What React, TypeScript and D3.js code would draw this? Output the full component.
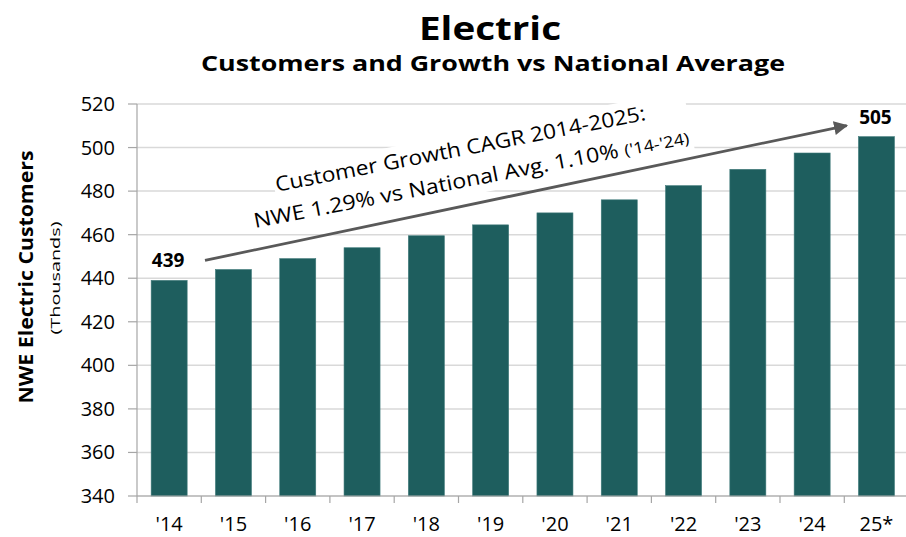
import React from "react";
import * as d3 from "d3";

const categories = ["'14", "'15", "'16", "'17", "'18", "'19", "'20", "'21", "'22", "'23", "'24", "25*"];
const customers = [439, 444, 449, 454, 459.5, 464.5, 470, 476, 482.5, 490, 497.5, 505];
const yTicks = [340, 360, 380, 400, 420, 440, 460, 480, 500, 520];
const labeledIdx = [0, 11];
const labelTexts = ["439", "505"];

const W = 906;
const H = 537;
const FONT = "'Open Sans', 'Noto Sans', sans-serif";

export default function App() {
  const x = d3
    .scaleBand<string>()
    .domain(categories)
    .range([137, 908.6])
    .paddingInner(0.44)
    .paddingOuter(0.22);
  const y = d3.scaleLinear().domain([340, 520]).range([496, 104]);

  const boundaries = categories.map((_, i) => 137 + i * x.step());

  const arrowStart = { x: 205, y: y(448.2) };
  const arrowEnd = { x: 846.7, y: y(510.1) };

  return (
    <svg
      width={W}
      height={H}
      style={{ position: "absolute", left: 0, top: 0, background: "#fff" }}
      fontFamily={FONT}
    >
      <defs>
        <marker
          id="ah"
          viewBox="0 0 10 10"
          refX="9"
          refY="5"
          markerWidth="5.2"
          markerHeight="5"
          markerUnits="strokeWidth"
          orient="auto"
        >
          <path d="M0,0 L10,5 L0,10 z" fill="#595959" />
        </marker>
      </defs>

      {/* Titles */}
      <text x={490} y={40} textAnchor="middle" fontWeight="bold" fontSize={32} textLength={142} lengthAdjust="spacingAndGlyphs" fill="#000">
        Electric
      </text>
      <text x={493} y={71} textAnchor="middle" fontWeight="bold" fontSize={22} textLength={584} lengthAdjust="spacingAndGlyphs" fill="#000">
        Customers and Growth vs National Average
      </text>

      {/* Gridlines */}
      {yTicks.map((t) => (
        <line key={"g" + t} x1={137} x2={W} y1={y(t)} y2={y(t)} stroke="#d9d9d9" strokeWidth={1.5} />
      ))}

      {/* Annotation box (white) covering gridlines */}
      <g transform={`translate(461.7,155.85) rotate(-11)`}>
        <rect x={-190} y={-22} width={420} height={62} fill="#fff" />
      </g>

      {/* Bars */}
      {categories.map((c, i) => (
        <rect
          key={c}
          x={x(c)}
          y={y(customers[i])}
          width={x.bandwidth()}
          height={y(340) - y(customers[i])}
          fill="#1e5e5e"
          stroke="#3f7a7a"
          strokeWidth={0.6}
        />
      ))}

      {/* Axes */}
      <line x1={137} x2={137} y1={104} y2={496} stroke="#a6a6a6" strokeWidth={1.2} />
      <line x1={137} x2={W} y1={496} y2={496} stroke="#a6a6a6" strokeWidth={1.2} />
      {yTicks.map((t) => (
        <line key={"yt" + t} x1={128} x2={137} y1={y(t)} y2={y(t)} stroke="#a6a6a6" strokeWidth={1.2} />
      ))}
      {boundaries.map((b, i) => (
        <line key={"xt" + i} x1={b} x2={b} y1={496} y2={503} stroke="#a6a6a6" strokeWidth={1.2} />
      ))}

      {/* Y tick labels */}
      {yTicks.map((t) => (
        <text key={"yl" + t} x={115} y={y(t) + 7} textAnchor="end" fontSize={20} fill="#000">
          {t}
        </text>
      ))}

      {/* X tick labels */}
      {categories.map((c) => (
        <text key={"xl" + c} x={(x(c) as number) + x.bandwidth() / 2} y={531} textAnchor="middle" fontSize={20} fill="#000">
          {c}
        </text>
      ))}

      {/* Y axis titles */}
      <text transform="translate(33,277) rotate(-90)" textAnchor="middle" fontWeight="bold" fontSize={20} textLength={253} lengthAdjust="spacingAndGlyphs" fill="#000">
        NWE Electric Customers
      </text>
      <text transform="translate(60,278) rotate(-90)" textAnchor="middle" fontSize={13.5} textLength={113} lengthAdjust="spacingAndGlyphs" fill="#000">
        (Thousands)
      </text>

      {/* Data labels */}
      {labeledIdx.map((idx, k) => (
        <text
          key={"dl" + idx}
          x={(x(categories[idx]) as number) + x.bandwidth() / 2 - 1}
          y={y(customers[idx]) - 13}
          textAnchor="middle"
          fontWeight="bold"
          fontSize={19}
          fill="#000"
        >
          {labelTexts[k]}
        </text>
      ))}

      {/* Arrow */}
      <line
        x1={arrowStart.x}
        y1={arrowStart.y}
        x2={arrowEnd.x}
        y2={arrowEnd.y}
        stroke="#595959"
        strokeWidth={2.8}
        markerEnd="url(#ah)"
      />

      {/* Annotation text */}
      <g transform={`translate(461.7,155.85) rotate(-11)`}>
        <text x={0} y={0} textAnchor="middle" fontSize={20.5} textLength={377} lengthAdjust="spacingAndGlyphs" fill="#000">
          Customer Growth CAGR 2014-2025:
        </text>
        <text x={5} y={31.5} textAnchor="middle" fontSize={20.5} textLength={443} lengthAdjust="spacingAndGlyphs" fill="#000">
          NWE 1.29% vs National Avg. 1.10%{" "}
          <tspan fontSize={16}>('14-'24)</tspan>
        </text>
      </g>
    </svg>
  );
}
